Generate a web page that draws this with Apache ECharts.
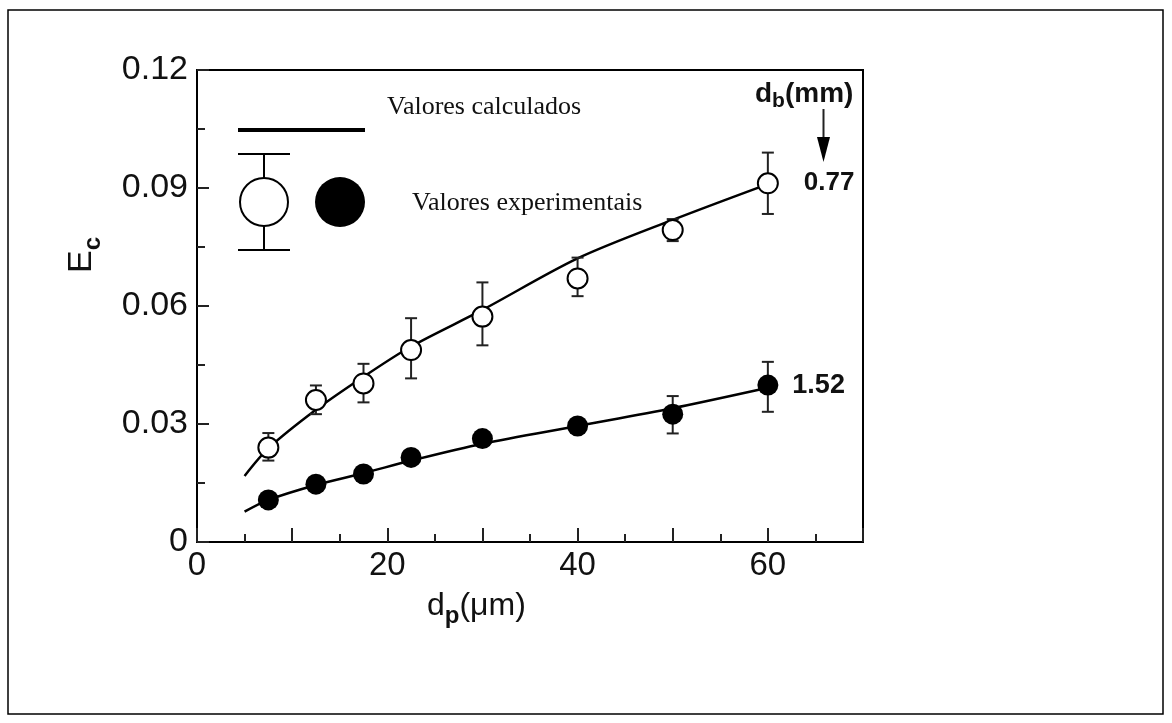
<!DOCTYPE html>
<html>
<head>
<meta charset="utf-8">
<script src="https://cdn.jsdelivr.net/npm/echarts@6/dist/echarts.min.js"></script>
<style>
html, body { margin: 0; padding: 0; background: #fff; }
#chart { width: 1172px; height: 723px; }
</style>
</head>
<body>
<div id="chart"></div>
<script>
// dp (um) where the experiments were run
var dpExp = [7.5, 12.5, 17.5, 22.5, 30, 40, 50, 60];
// db = 0.77 mm (open circles)
var ecOpen = [0.0240, 0.0361, 0.0403, 0.0488, 0.0573, 0.0670, 0.0793, 0.0912];
var ecOpenLow = [0.0207, 0.0325, 0.0355, 0.0416, 0.0500, 0.0625, 0.0765, 0.0834];
var ecOpenHigh = [0.0277, 0.0398, 0.0453, 0.0569, 0.0660, 0.0723, 0.0821, 0.0990];
// db = 1.52 mm (filled circles), null = no bar drawn
var ecFilled = [0.0107, 0.0147, 0.0173, 0.0215, 0.0263, 0.0295, 0.0325, 0.0399];
var ecFilledLow = [null, null, null, null, null, null, 0.0276, 0.0331];
var ecFilledHigh = [null, null, null, null, null, null, 0.0371, 0.0458];
// calculated curves
var dpCalc = [5, 7.5, 12.5, 17.5, 22.5, 30, 40, 50, 60];
var ecCalc077 = [0.0168, 0.0238, 0.0336, 0.0420, 0.0497, 0.0590, 0.0721, 0.0819, 0.0910];
var ecCalc152 = [0.0077, 0.0107, 0.0145, 0.0175, 0.0207, 0.0250, 0.0295, 0.0340, 0.0392];
// labels
var xTickLabels = [0, 20, 40, 60];
var curveLabels = ['0.77', '1.52'];

var sansFont = 'Liberation Sans';
var serifFont = 'Liberation Serif';

function pairs(xs, ys) {
  return xs.map(function (x, i) { return [x, ys[i]]; });
}

function bars(xs, lo, hi) {
  var out = [];
  xs.forEach(function (x, i) {
    if (lo[i] != null) out.push([x, lo[i], hi[i]]);
  });
  return out;
}

function renderErrorBar(params, api) {
  var x = api.value(0);
  var lo = api.coord([x, api.value(1)]);
  var hi = api.coord([x, api.value(2)]);
  var w = 6;
  var st = { stroke: '#222', lineWidth: 2 };
  return {
    type: 'group',
    children: [
      { type: 'line', shape: { x1: lo[0], y1: lo[1], x2: hi[0], y2: hi[1] }, style: st },
      { type: 'line', shape: { x1: lo[0] - w, y1: lo[1], x2: lo[0] + w, y2: lo[1] }, style: st },
      { type: 'line', shape: { x1: hi[0] - w, y1: hi[1], x2: hi[0] + w, y2: hi[1] }, style: st }
    ]
  };
}

function endLabel(data, text, dist, size) {
  var last = data.length - 1;
  data[last] = {
    value: data[last],
    label: {
      show: true, formatter: text, position: 'right', distance: dist,
      fontFamily: sansFont, fontWeight: 'bold', fontSize: size, color: '#111'
    }
  };
  return data;
}

// text with subscripts: pieces laid out along a baseline at (0,0)
var measureCtx = document.createElement('canvas').getContext('2d');
function subscriptText(parts) {
  var x = 0;
  return parts.map(function (p) {
    var weight = p.bold ? 'bold' : 'normal';
    measureCtx.font = weight + ' ' + p.size + 'px "' + sansFont + '"';
    var el = {
      type: 'text', x: x, y: (p.dy || 0) - 0.35 * p.size,
      style: { text: p.t, fontFamily: sansFont, fontWeight: weight, fontSize: p.size,
        fill: '#111', align: 'left', verticalAlign: 'middle' }
    };
    x += measureCtx.measureText(p.t).width;
    return el;
  });
}

var chart = echarts.init(document.getElementById('chart'));

var option = {
  backgroundColor: '#fff',
  animation: false,
  grid: {
    left: 197, right: 309, top: 70, bottom: 181,
    show: true, borderColor: '#000', borderWidth: 2
  },
  xAxis: {
    type: 'value', min: 0, max: 70, interval: 10,
    axisLine: { lineStyle: { color: '#000', width: 2 } },
    axisTick: { inside: true, length: 14, lineStyle: { color: '#222', width: 2 } },
    minorTick: { show: true, splitNumber: 2, length: 8, lineStyle: { color: '#222', width: 2 } },
    splitLine: { show: false },
    axisLabel: {
      margin: 7, fontFamily: sansFont, fontSize: 33, color: '#111',
      formatter: function (v) { return xTickLabels.indexOf(v) >= 0 ? String(v) : ''; }
    }
  },
  yAxis: {
    type: 'value', min: 0, max: 0.12, interval: 0.03,
    axisLine: { show: true, lineStyle: { color: '#000', width: 2 } },
    axisTick: { show: true, inside: true, length: 12, lineStyle: { color: '#222', width: 2 } },
    minorTick: { show: true, splitNumber: 2, length: 8, lineStyle: { color: '#222', width: 2 } },
    splitLine: { show: false },
    axisLabel: {
      margin: 9, fontFamily: sansFont, fontSize: 34, color: '#111',
      formatter: function (v) { return v === 0 ? '0' : v.toFixed(2); }
    }
  },
  series: [
    {
      name: 'calc 0.77', type: 'line', smooth: 0.3, showSymbol: false, z: 2,
      lineStyle: { color: '#000', width: 2.5 },
      data: pairs(dpCalc, ecCalc077)
    },
    {
      name: 'calc 1.52', type: 'line', smooth: 0.3, showSymbol: false, z: 2,
      lineStyle: { color: '#000', width: 2.5 },
      data: pairs(dpCalc, ecCalc152)
    },
    {
      name: 'err 0.77', type: 'custom', z: 3, renderItem: renderErrorBar,
      encode: { x: 0, y: [1, 2] },
      data: bars(dpExp, ecOpenLow, ecOpenHigh)
    },
    {
      name: 'err 1.52', type: 'custom', z: 3, renderItem: renderErrorBar,
      encode: { x: 0, y: [1, 2] },
      data: bars(dpExp, ecFilledLow, ecFilledHigh)
    },
    {
      name: 'exp 0.77', type: 'scatter', symbol: 'circle', symbolSize: 20, z: 4,
      itemStyle: { color: '#fff', borderColor: '#000', borderWidth: 2, opacity: 1 },
      data: endLabel(pairs(dpExp, ecOpen), curveLabels[0], 25, 26)
    },
    {
      name: 'exp 1.52', type: 'scatter', symbol: 'circle', symbolSize: 21, z: 4,
      itemStyle: { color: '#000', opacity: 1 },
      data: endLabel(pairs(dpExp, ecFilled), curveLabels[1], 14, 27)
    }
  ],
  graphic: [
    // outer frame
    { type: 'rect', shape: { x: 8, y: 10, width: 1155, height: 704 },
      style: { fill: 'none', stroke: '#000', lineWidth: 1.5 }, silent: true },
    // hand-drawn key
    { type: 'line', shape: { x1: 238, y1: 130, x2: 365, y2: 130 },
      style: { stroke: '#000', lineWidth: 4 }, z: 10 },
    { type: 'line', shape: { x1: 264, y1: 154, x2: 264, y2: 250 },
      style: { stroke: '#000', lineWidth: 2 }, z: 10 },
    { type: 'line', shape: { x1: 238, y1: 154, x2: 290, y2: 154 },
      style: { stroke: '#000', lineWidth: 2 }, z: 10 },
    { type: 'line', shape: { x1: 238, y1: 250, x2: 290, y2: 250 },
      style: { stroke: '#000', lineWidth: 2 }, z: 10 },
    { type: 'circle', shape: { cx: 264, cy: 202, r: 24 },
      style: { fill: '#fff', stroke: '#000', lineWidth: 2 }, z: 11 },
    { type: 'circle', shape: { cx: 340, cy: 202, r: 25 },
      style: { fill: '#000' }, z: 11 },
    { type: 'text', x: 387, y: 94, z: 10,
      style: { text: 'Valores calculados', fontFamily: serifFont, fontSize: 26, fill: '#111',
        align: 'left', verticalAlign: 'top' } },
    { type: 'text', x: 412, y: 190, z: 10,
      style: { text: 'Valores experimentais', fontFamily: serifFont, fontSize: 26, fill: '#111',
        align: 'left', verticalAlign: 'top' } },
    // d_b (mm) marker with arrow
    { type: 'group', x: 755, y: 104, z: 10,
      children: subscriptText([
        { t: 'd', size: 28, bold: true },
        { t: 'b', size: 21, bold: true, dy: 5 },
        { t: '(mm)', size: 28, bold: true }
      ]) },
    { type: 'line', shape: { x1: 823.5, y1: 109, x2: 823.5, y2: 140 },
      style: { stroke: '#222', lineWidth: 2 }, z: 10 },
    { type: 'polygon', shape: { points: [[817, 137], [830, 137], [823.5, 162]] },
      style: { fill: '#000' }, z: 10 },
    // axis titles
    { type: 'group', x: 427, y: 617, z: 10,
      children: subscriptText([
        { t: 'd', size: 32 },
        { t: 'p', size: 24, bold: true, dy: 8 },
        { t: '(\u03bcm)', size: 32 }
      ]) },
    { type: 'group', x: 94, y: 273, rotation: Math.PI / 2, z: 10,
      children: subscriptText([
        { t: 'E', size: 34 },
        { t: 'c', size: 24, bold: true, dy: 8 }
      ]) }
  ]
};

chart.setOption(option);
</script>
</body>
</html>
